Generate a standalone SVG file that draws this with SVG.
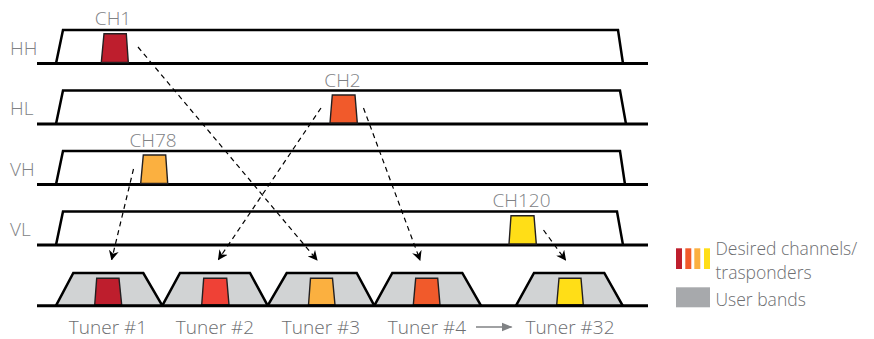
<svg xmlns="http://www.w3.org/2000/svg" width="874" height="339" viewBox="0 0 874 339">
<style>
.band{fill:#fff;stroke:#000;stroke-width:2.5;stroke-linejoin:miter}
.base{stroke:#000;stroke-width:3;fill:none}
.tun{fill:#d1d3d4;stroke:#000;stroke-width:2.5;stroke-linejoin:miter}
.ch{stroke:#231f20;stroke-width:1.4;stroke-linejoin:miter}
.lbl{font-family:"Open Sans","Liberation Sans",sans-serif;font-size:19px;font-weight:300;fill:#808285}
.tl{font-family:"Open Sans","Liberation Sans",sans-serif;font-size:19px;font-weight:300;fill:#6d6e71}
.lg{font-family:"Open Sans","Liberation Sans",sans-serif;font-size:17.5px;font-weight:300;fill:#6d6e71}
.dash{stroke:#000;stroke-width:1.2;stroke-dasharray:5 4;fill:none;marker-end:url(#ah)}
.c1{fill:#be1e2d}.c2{fill:#f15a2b}.c3{fill:#fbb040}.c4{fill:#ffde17}.c5{fill:#ef4136}
</style>
<defs>
<marker id="ah" viewBox="0 0 10 10" refX="9" refY="5" markerWidth="10" markerHeight="10" markerUnits="userSpaceOnUse" orient="auto">
<path d="M0,0 L10,5 L0,10 L3,5 Z" fill="#000"/>
</marker>
<marker id="ag" viewBox="0 0 10 10" refX="9" refY="5" markerWidth="11" markerHeight="11" markerUnits="userSpaceOnUse" orient="auto">
<path d="M0,1 L10,5 L0,9 Z" fill="#808285"/>
</marker>
</defs>

<g id="band-HH">
<text class="lbl" x="10" y="55">HH</text>
<path class="band" d="M56,63.5 L63,30 L618,30 L623,63.5"/>
<line class="base" x1="37" y1="63.5" x2="648" y2="63.5"/>
</g>
<g id="band-HL">
<text class="lbl" x="10" y="115">HL</text>
<path class="band" d="M56,124 L63,90.5 L620,90.5 L626,124"/>
<line class="base" x1="37" y1="124" x2="648" y2="124"/>
</g>
<g id="band-VH">
<text class="lbl" x="10" y="175.5">VH</text>
<path class="band" d="M56,184.5 L63,151 L620,151 L625,184.5"/>
<line class="base" x1="37" y1="184.5" x2="648" y2="184.5"/>
</g>
<g id="band-VL">
<text class="lbl" x="10" y="235.5">VL</text>
<path class="band" d="M56,245 L63,211.5 L617,211.5 L623,245"/>
<line class="base" x1="37" y1="245" x2="648" y2="245"/>
</g>

<g id="ch1">
<text class="lbl" x="113" y="25" text-anchor="middle">CH1</text>
<path class="ch c1" d="M101.3,62.5 L104,33.7 L126.3,33.7 L128.3,62.5 Z"/>
</g>
<g id="ch2">
<text class="lbl" x="342.5" y="87" text-anchor="middle">CH2</text>
<path class="ch c2" d="M330,123 L332.3,95 L355,95 L357.3,123 Z"/>
</g>
<g id="ch78">
<text class="lbl" x="153" y="146.7" text-anchor="middle">CH78</text>
<path class="ch c3" d="M140.7,183.5 L143.3,155 L165.7,155 L167.7,183.5 Z"/>
</g>
<g id="ch120">
<text class="lbl" x="521.5" y="206.7" text-anchor="middle">CH120</text>
<path class="ch c4" d="M509,244 L511,215.7 L534,215.7 L536.3,244 Z"/>
</g>

<g id="tuner-1">
<path class="tun" d="M56,305.7 L73.3,273 L143.3,273 L162.3,305.7"/>
<path class="ch c1" d="M94.7,305 L96.7,278.3 L119,278.3 L121.7,305 Z"/>
<text class="tl" x="108" y="334" text-anchor="middle">Tuner #1</text>
</g>
<g id="tuner-2">
<path class="tun" d="M162.3,305.7 L180,273 L250,273 L267.7,305.7"/>
<path class="ch c5" d="M201.7,305 L203.7,278.3 L226.7,278.3 L229,305 Z"/>
<text class="tl" x="215" y="334" text-anchor="middle">Tuner #2</text>
</g>
<g id="tuner-3">
<path class="tun" d="M267.7,305.7 L286.7,273 L356.7,273 L374.3,305.7"/>
<path class="ch c3" d="M308.5,305 L310.5,278.3 L332.5,278.3 L335,305 Z"/>
<text class="tl" x="321" y="334" text-anchor="middle">Tuner #3</text>
</g>
<g id="tuner-4">
<path class="tun" d="M374.3,305.7 L392.3,273 L462.3,273 L481,305.7"/>
<path class="ch c2" d="M413.3,305 L415.7,278.3 L437.7,278.3 L440,305 Z"/>
<text class="tl" x="427" y="334" text-anchor="middle">Tuner #4</text>
</g>
<g id="tuner-32">
<path class="tun" d="M516,305.7 L534,273 L604.3,273 L622.7,305.7"/>
<path class="ch c4" d="M556.7,305 L559,278.3 L581,278.3 L583.3,305 Z"/>
<text class="tl" x="570" y="334" text-anchor="middle">Tuner #32</text>
</g>
<line class="base" x1="37" y1="305.7" x2="648" y2="305.7"/>

<g id="connectors">
<line class="dash" x1="138" y1="47" x2="317" y2="260"/>
<line class="dash" x1="321" y1="108" x2="218.5" y2="259.5"/>
<line class="dash" x1="363.5" y1="108" x2="420" y2="260"/>
<line class="dash" x1="133.5" y1="169" x2="111.7" y2="259.5"/>
<line class="dash" x1="543.5" y1="230" x2="565.5" y2="260"/>
<line x1="476" y1="327" x2="511.5" y2="327" stroke="#808285" stroke-width="1.5" marker-end="url(#ag)"/>
</g>

<g id="legend">
<rect x="676" y="248.3" width="6" height="20.7" class="c1"/>
<rect x="685.3" y="248.3" width="6" height="20.7" class="c2"/>
<rect x="694.3" y="248.3" width="6" height="20.7" class="c3"/>
<rect x="704" y="248.3" width="6" height="20.7" class="c4"/>
<text class="lg" x="715.5" y="255"><tspan x="715.5" y="255">Desired channels/</tspan><tspan x="715.5" y="279">trasponders</tspan></text>
<rect x="676" y="287.3" width="34" height="20" fill="#a7a9ac"/>
<text class="lg" x="715.5" y="306">User bands</text>
</g>
</svg>
